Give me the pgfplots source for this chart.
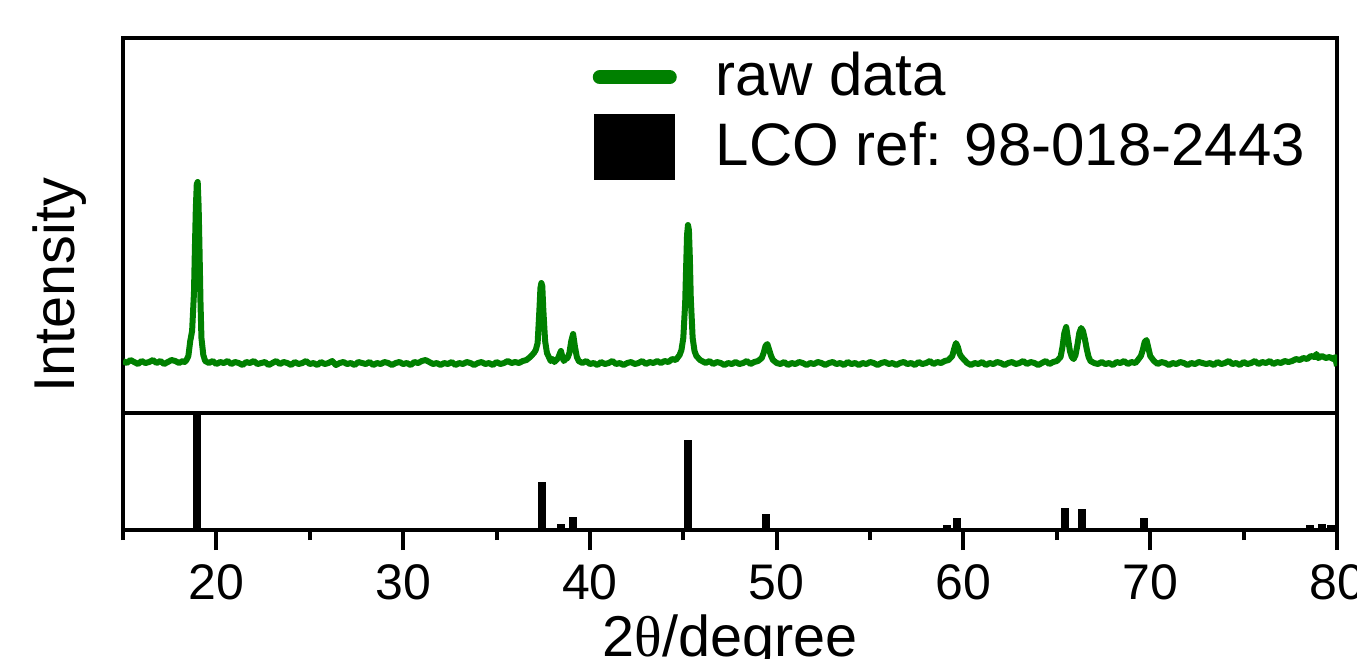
\documentclass[border=0pt]{standalone}
\usepackage{fontspec}
\setmainfont{Liberation Sans}
\newfontfamily\greekserif{Liberation Serif}
\usepackage{pgfplots}
\pgfplotsset{compat=1.18}
\definecolor{rawgreen}{HTML}{008000}

\begin{document}
\begin{tikzpicture}
% reference pattern (bottom panel)
\begin{axis}[
  name=bot, at={(0pt,0pt)}, anchor=south west,
  scale only axis, width=303.5pt, height=29.25pt,
  xmin=15, xmax=80, ymin=0, ymax=100,
  axis line style={line width=1pt},
  xtick={20,30,...,80}, minor xtick={15,25,...,75}, ytick=\empty,
  xtick pos=bottom, tick align=outside,
  major tick length=5pt, minor tick length=2.5pt,
  every tick/.style={black, line width=1pt},
  xticklabel style={font=\fontsize{12.5}{15}\selectfont},
  /pgf/number format/assume math mode=true,
]
\addplot[ycomb, black, line width=2pt] coordinates {
  (18.98,100) (37.41,41) (38.43,5) (39.10,11) (45.24,77) (49.42,14)
  (59.10,4) (59.66,10) (65.42,19) (66.33,17.6) (69.66,10.3)
  (78.55,4) (79.20,5) (79.70,4.5)
};
\end{axis}
% measured pattern (top panel)
\begin{axis}[
  at={(bot.north west)}, anchor=south west,
  scale only axis, width=303.5pt, height=93.75pt,
  xmin=15, xmax=80, ymin=0, ymax=375,
  axis line style={line width=1pt},
  xtick=\empty, ytick=\empty,
  legend cell align=left,
  legend style={draw=none, fill=none, inner sep=0pt,
    at={(axis description cs:0.3863,0.985)}, anchor=north west,
    font=\fontsize{15}{18}\selectfont, row sep=1pt, column sep=7.75pt},
]
\addplot[rawgreen, line width=1.5pt, line join=round,
  legend image code/.code={\draw[rawgreen, line width=3.5pt, line cap=round] (1.75pt,0pt) -- (19.25pt,0pt);}]
coordinates {
(15.0,52)(15.2,50)(15.4,53)(15.6,51)(15.8,49)(16.0,52)(16.2,50)(16.4,51)(16.6,53)(16.8,50)
(17.0,52)(17.2,49)(17.4,51)(17.6,53)(17.8,52)(18.0,50)(18.2,52)(18.3,51)(18.4,53)(18.5,57)
(18.6,72)(18.7,82)(18.8,120)(18.85,165)(18.9,205)(18.95,229)(19.0,231)(19.05,206)(19.1,160)(19.15,110)
(19.2,75)(19.3,58)(19.4,52)(19.6,50)(19.8,52)(20.0,49)(20.2,51)(20.4,50)(20.6,52)(20.8,49)
(21.0,51)(21.2,50)(21.4,48)(21.6,51)(21.8,50)(22.0,52)(22.2,49)(22.4,50)(22.6,51)(22.8,48)
(23.0,50)(23.2,52)(23.4,49)(23.6,51)(23.8,50)(24.0,48)(24.2,51)(24.4,49)(24.6,50)(24.8,52)
(25.0,49)(25.2,50)(25.4,48)(25.6,51)(25.8,49)(26.0,50)(26.2,52)(26.4,48)(26.6,50)(26.8,51)
(27.0,49)(27.2,50)(27.4,48)(27.6,51)(27.8,50)(28.0,49)(28.2,51)(28.4,48)(28.6,50)(28.8,49)
(29.0,51)(29.2,50)(29.4,48)(29.6,50)(29.8,51)(30.0,49)(30.2,50)(30.4,48)(30.6,51)(30.8,50)
(31.0,52)(31.2,53)(31.4,51)(31.6,49)(31.8,50)(32.0,48)(32.2,50)(32.4,49)(32.6,51)(32.8,48)
(33.0,50)(33.2,49)(33.4,51)(33.6,50)(33.8,48)(34.0,50)(34.2,51)(34.4,49)(34.6,50)(34.8,48)
(35.0,51)(35.2,49)(35.4,50)(35.6,52)(35.8,50)(36.0,51)(36.2,50)(36.4,52)(36.6,53)(36.8,56)
(37.0,60)(37.1,63)(37.2,70)(37.3,105)(37.35,125)(37.4,130)(37.45,127)(37.5,105)(37.6,72)(37.7,60)
(37.8,56)(37.9,52)(38.0,54)(38.1,51)(38.2,53)(38.3,55)(38.4,60)(38.45,62)(38.5,58)(38.6,52)
(38.7,54)(38.8,55)(38.9,60)(39.0,72)(39.1,79)(39.2,66)(39.3,56)(39.4,52)(39.6,50)(39.8,52)
(40.0,49)(40.2,50)(40.4,48)(40.6,51)(40.8,49)(41.0,50)(41.2,52)(41.4,49)(41.6,50)(41.8,48)
(42.0,50)(42.2,51)(42.4,49)(42.6,50)(42.8,52)(43.0,49)(43.2,51)(43.4,50)(43.6,52)(43.8,50)
(44.0,52)(44.2,51)(44.4,54)(44.6,53)(44.8,58)(44.9,63)(45.0,75)(45.1,110)(45.15,145)(45.2,178)
(45.25,188)(45.3,183)(45.35,155)(45.4,115)(45.5,75)(45.6,62)(45.7,57)(45.8,55)(45.9,53)(46.0,52)
(46.2,50)(46.4,52)(46.6,49)(46.8,51)(47.0,50)(47.2,48)(47.4,50)(47.6,49)(47.8,51)(48.0,49)
(48.2,50)(48.4,52)(48.6,49)(48.8,51)(49.0,52)(49.2,55)(49.3,60)(49.4,67)(49.5,69)(49.6,63)
(49.7,57)(49.8,53)(50.0,50)(50.2,49)(50.4,51)(50.6,48)(50.8,50)(51.0,49)(51.2,51)(51.4,50)
(51.6,48)(51.8,50)(52.0,49)(52.2,51)(52.4,50)(52.6,48)(52.8,50)(53.0,51)(53.2,49)(53.4,50)
(53.6,48)(53.8,51)(54.0,49)(54.2,50)(54.4,48)(54.6,50)(54.8,49)(55.0,51)(55.2,50)(55.4,48)
(55.6,50)(55.8,51)(56.0,49)(56.2,50)(56.4,48)(56.6,50)(56.8,51)(57.0,49)(57.2,50)(57.4,48)
(57.6,51)(57.8,49)(58.0,50)(58.2,52)(58.4,49)(58.6,51)(58.8,50)(59.0,52)(59.2,53)(59.4,57)
(59.5,64)(59.6,70)(59.7,66)(59.8,59)(59.9,56)(60.0,54)(60.2,50)(60.4,48)(60.6,50)(60.8,49)
(61.0,51)(61.2,48)(61.4,50)(61.6,49)(61.8,51)(62.0,50)(62.2,48)(62.4,50)(62.6,51)(62.8,49)
(63.0,50)(63.2,52)(63.4,49)(63.6,51)(63.8,50)(64.0,48)(64.2,50)(64.4,52)(64.6,49)(64.8,51)
(65.0,52)(65.2,56)(65.3,66)(65.4,80)(65.5,86)(65.6,74)(65.7,62)(65.8,56)(65.9,54)(66.0,58)
(66.1,68)(66.2,80)(66.3,85)(66.4,82)(66.5,74)(66.6,64)(66.7,56)(66.8,52)(67.0,50)(67.2,49)
(67.4,51)(67.6,49)(67.8,50)(68.0,48)(68.2,51)(68.4,50)(68.6,52)(68.8,49)(69.0,51)(69.2,50)
(69.3,52)(69.5,57)(69.6,63)(69.7,71)(69.8,73)(69.9,65)(70.0,57)(70.2,52)(70.4,49)(70.6,51)
(70.8,50)(71.0,48)(71.2,50)(71.4,49)(71.6,51)(71.8,50)(72.0,48)(72.2,50)(72.4,49)(72.6,51)
(72.8,50)(73.0,49)(73.2,50)(73.4,48)(73.6,51)(73.8,49)(74.0,50)(74.2,52)(74.4,49)(74.6,50)
(74.8,48)(75.0,51)(75.2,49)(75.4,50)(75.6,52)(75.8,49)(76.0,51)(76.2,50)(76.4,52)(76.6,49)
(76.8,51)(77.0,50)(77.2,52)(77.4,51)(77.6,52)(77.8,54)(78.0,53)(78.2,55)(78.4,54)(78.6,57)
(78.8,56)(78.9,59)(79.0,55)(79.2,57)(79.4,55)(79.6,56)(79.8,54)(79.9,56)(80.0,47)
};
\addlegendentry{raw data}
\addlegendimage{legend image code/.code={\fill[black] (0.5pt,-8.1pt) rectangle (20.25pt,8.1pt);}}
\addlegendentry{LCO ref: 98-018-2443}
\end{axis}
\node[rotate=90, font=\fontsize{14.4}{17}\selectfont] at (-15.75pt,61.25pt) {Intensity};
\node[anchor=base, font=\fontsize{14.4}{17}\selectfont] at (151.75pt,-31.5pt) {2{\greekserif θ}/degree};
\pgfresetboundingbox
\path (-30.75pt,-32pt) rectangle (308.5pt,132.5pt);
\end{tikzpicture}
\end{document}
